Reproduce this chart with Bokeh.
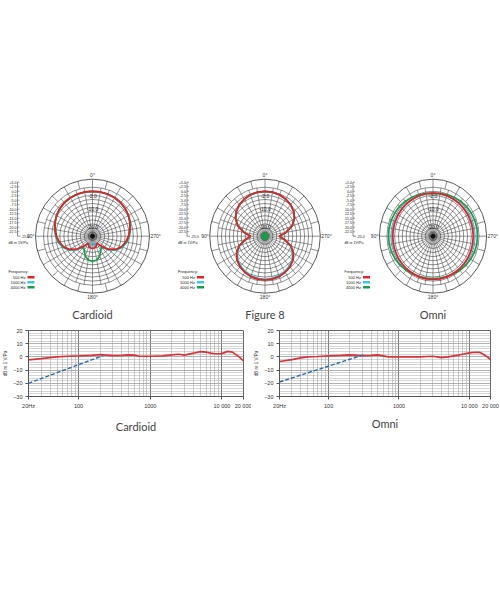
import numpy as np
from bokeh.plotting import figure
from bokeh.layouts import column, row
from bokeh.models import Spacer, Range1d, FixedTicker, Title
from bokeh.core.properties import value
from bokeh.embed import file_html
from bokeh.resources import INLINE

# ---------------- polar data (dB), angle from 0° (top), symmetric, 0..180 step 10
polar_angles = [0, 10, 20, 30, 40, 50, 60, 70, 80, 90, 100, 110, 120, 130, 140, 150, 160, 170, 180]
cardioid_500 = [2.5, 2.5, 2.4, 2.2, 1.8, 1.2, 0.4, -0.6, -1.8, -3.0, -4.4, -6.2, -8.8, -12.5, -17.5, -20.0, -18.5, -17.8, -17.5]
cardioid_1000 = [2.4, 2.4, 2.3, 2.1, 1.7, 1.1, 0.4, -0.4, -1.4, -2.4, -3.6, -5.4, -8.0, -11.6, -16.5, -20.5, -20.0, -19.2, -19.0]
cardioid_4000 = [2.5, 2.5, 2.4, 2.2, 1.8, 1.2, 0.4, -0.5, -1.5, -2.6, -3.9, -5.8, -8.6, -12.8, -16.5, -15.0, -12.0, -10.2, -9.5]
fig8_500 = [2.5, 2.4, 2.0, 1.2, 0.2, -1.3, -3.5, -6.8, -11.5, -16.0, -12.2, -7.5, -4.2, -2.0, -0.5, 0.5, 1.3, 1.7, 1.8]
fig8_1000 = [2.4, 2.3, 1.9, 1.1, 0.1, -1.4, -3.6, -6.9, -11.6, -16.0, -12.6, -8.2, -5.0, -2.7, -1.2, -0.1, 0.7, 1.2, 1.4]
fig8_4000 = [2.4, 2.3, 1.9, 1.1, 0.1, -1.4, -3.6, -6.9, -11.6, -16.0, -12.3, -7.6, -4.3, -2.1, -0.6, 0.4, 1.2, 1.6, 1.7]
omni_500 = [1.4, 1.4, 1.4, 1.3, 1.3, 1.2, 1.2, 1.2, 1.2, 1.2, 1.2, 1.2, 1.3, 1.3, 1.4, 1.4, 1.5, 1.5, 1.5]
omni_1000 = [1.3, 1.3, 1.3, 1.3, 1.4, 1.5, 1.6, 1.7, 1.8, 1.8, 1.8, 1.7, 1.6, 1.5, 1.4, 1.3, 1.3, 1.2, 1.2]
omni_4000 = [1.4, 1.6, 2.0, 2.5, 3.0, 3.4, 3.7, 3.9, 4.0, 4.0, 3.9, 3.7, 3.3, 2.8, 2.2, 1.7, 1.3, 1.1, 1.0]

legend_labels = ["500 Hz", "1000 Hz", "4000 Hz"]
legend_colors = ["#e3232b", "#3ec6e6", "#1d9a4c"]
ring_db = [-22.5, -20.0, -17.5, -15.0, -12.5, -10.0, -7.5, -5.0, -2.5, 0.0, 2.5, 5.0]
scale_values = [5.0, 2.5, 0.0, -2.5, -5.0, -7.5, -10.0, -12.5, -15.0, -17.5, -20.0, -22.5]
scale_labels = ["+5.0", "+2.5", "0.0", "-2.5", "-5.0", "-7.5", "-10.0", "-12.5", "-15.0", "-17.5", "-20.0", "-22.5"]
ring_label_text = ["-2.0", "-10.0", "-20.0"]

# ---------------- frequency response data
resp_freq = [20, 30, 40, 50, 70, 100, 150, 200, 300, 400, 500, 600, 700, 1000, 1500, 2000,
             2500, 3000, 4000, 5000, 6000, 7000, 8000, 10000, 12000, 14000, 16000, 18000, 20000]
cardioid_resp = [-2.3, -1.3, -0.5, 0.0, 0.5, 0.8, 1.2, 1.7, 1.0, 1.2, 1.6, 1.3, 0.5, 0.5, 0.8, 1.5,
                 2.0, 1.3, 2.8, 4.0, 3.6, 2.8, 2.4, 2.5, 4.2, 3.6, 1.5, -0.8, -3.0]
omni_resp = [-3.5, -2.0, -0.8, 0.0, 0.3, 0.8, 1.2, 1.5, 1.0, 1.2, 1.5, 0.8, 0.0, 0.0, 0.0, 0.0,
             0.3, 0.5, -0.5, 0.0, 0.8, 1.3, 2.0, 3.0, 3.5, 3.5, 1.8, 0.0, -2.0]
cardioid_cut_f = [20, 220]
cardioid_cut_db = [-20.0, 1.0]
omni_cut_f = [20, 310]
omni_cut_db = [-19.0, 1.5]
x_tick_vals = [20, 100, 1000, 10000, 20000]
x_tick_labels = ["20Hz", "100", "1000", "10 000", "20 000"]
y_tick_vals = [-30, -20, -10, 0, 10, 20]

# ---------------- geometry / style
R_IN, R_OUT = 49.0, 57.0
DB_MIN, DB_MAX = -25.0, 5.0
CY = 63.7
PH = 150
SCALE_TOP = 54.0
FONT = "Liberation Sans"
TFONT = "Lato"


def rad(db):
    return R_IN * (np.asarray(db, dtype=float) - DB_MIN) / (DB_MAX - DB_MIN)


def full(vals):
    a = np.array(polar_angles + [360 - a for a in polar_angles[-2::-1]], dtype=float)
    v = list(vals) + list(vals[-2::-1])
    return a, np.array(v, dtype=float)


def txt(p, x, y, t, size, align="center", base="middle", color="#333", font=FONT):
    p.text(x=list(x), y=list(y), text=t, text_font=value(font), text_font_size=size,
           text_align=align, text_baseline=base, text_color=color)


def polar(w, cx, sx, series, title, scale_px, center_color="#111", center_r=2.0):
    def X(v):
        return np.asarray(v, dtype=float) / sx

    p = figure(width=w, height=PH, x_range=Range1d(-cx / sx, (w - cx) / sx),
               y_range=Range1d(CY - PH, CY),
               output_backend="svg", toolbar_location=None, min_border=0)
    p.axis.visible = False
    p.xgrid.visible = False
    p.ygrid.visible = False
    p.outline_line_color = None
    # rings (drawn as ellipses in data units)
    rr = rad(ring_db)
    p.ellipse(x=[0] * len(rr), y=[0] * len(rr), width=list(2 * rr), height=list(2 * rr),
              fill_color=None, line_color="#333", line_width=0.55)
    p.ellipse(x=[0], y=[0], width=[2 * R_OUT], height=[2 * R_OUT], fill_color=None,
              line_color="#333", line_width=0.8)
    # spokes
    th = np.radians(np.arange(0, 360, 10))
    p.segment(x0=list(-1.5 * np.sin(th)), y0=list(1.5 * np.cos(th)),
              x1=list(-R_IN * np.sin(th)), y1=list(R_IN * np.cos(th)),
              line_color="#333", line_width=0.5)
    tb = np.radians(np.arange(0, 360, 15))
    p.segment(x0=list(-R_IN * np.sin(tb)), y0=list(R_IN * np.cos(tb)),
              x1=list(-R_OUT * np.sin(tb)), y1=list(R_OUT * np.cos(tb)),
              line_color="#333", line_width=0.55)
    # ring labels
    txt(p, [0, 0, 0], [40, 27, 9], ring_label_text, "5px", color="#222")
    # patterns: order 1000, 4000, 500 (red on top)
    for idx in (1, 2, 0):
        a, v = full(series[idx])
        r = rad(v)
        t = np.radians(a)
        p.line(x=list(-r * np.sin(t)), y=list(r * np.cos(t)), line_color=legend_colors[idx],
               line_width=1.7)
    p.ellipse(x=[0], y=[0], width=[2 * center_r / sx], height=[2 * center_r],
              fill_color=center_color, line_color=center_color)
    # angle labels
    edge = R_OUT * sx
    txt(p, [0], [R_OUT + 1], ["0°"], "5px", base="bottom")
    txt(p, [0], [-R_OUT - 1], ["180°"], "5px", base="top")
    txt(p, X([-edge - 1]), [0], ["90°"], "5px", align="right")
    txt(p, X([edge + 1]), [0], ["270°"], "5px", align="left")
    # dB scale
    sy = [SCALE_TOP * (v - DB_MIN) / (DB_MAX - DB_MIN) for v in scale_values]
    n = len(sy)
    s0 = float(X(scale_px))
    p.segment(x0=[s0], y0=[0], x1=[s0], y1=[SCALE_TOP], line_color="#444", line_width=0.6)
    p.segment(x0=[s0] * n, y0=sy, x1=[float(X(scale_px + 2))] * n, y1=sy,
              line_color="#444", line_width=0.5)
    p.segment(x0=[s0], y0=[0], x1=[float(X(scale_px + 3))], y1=[0], line_color="#444", line_width=0.6)
    txt(p, X([scale_px - 1] * n), sy, scale_labels, "3.6px", align="right", color="#222")
    txt(p, X([scale_px + 3.5]), [0], ["-25.0"], "3.6px", align="left", color="#222")
    txt(p, X([scale_px - 9]), [-7], ["dB re 1V/Pa"], "3.6px", align="left", color="#222")
    # legend
    txt(p, X([scale_px - 9]), [-35], ["Frequency:"], "4px", align="left", color="#222")
    ly = [-41, -46, -51]
    txt(p, X([scale_px + 8] * 3), ly, legend_labels, "4px", align="right", color="#222")
    p.segment(x0=list(X([scale_px + 10] * 3)), y0=ly, x1=list(X([scale_px + 17] * 3)), y1=ly,
              line_color=legend_colors, line_width=2.6)
    # title
    txt(p, [0], [-78.3], [title], "11px", color="#444", font=TFONT)
    return p


def resp(vals, cut_f, cut_db, title, fw, left, right, top, standoff):
    p = figure(frame_width=fw, frame_height=66, x_axis_type="log",
               x_range=Range1d(20, 20000), y_range=Range1d(-30, 20),
               output_backend="svg", toolbar_location=None,
               min_border_left=left, min_border_right=right, min_border_top=top,
               min_border_bottom=0)
    x_minor = [m * d for d in (10, 100, 1000) for m in range(2, 10) if 20 < m * d < 20000]
    xt = FixedTicker(ticks=x_tick_vals, minor_ticks=x_minor)
    yt = FixedTicker(ticks=y_tick_vals, minor_ticks=[v for v in range(-30, 21, 2)])
    p.xaxis.ticker = xt
    p.xgrid.ticker = xt
    p.yaxis.ticker = yt
    p.ygrid.ticker = yt
    p.xaxis.major_label_overrides = dict(zip(x_tick_vals, x_tick_labels))
    for ax in (p.xaxis, p.yaxis):
        ax.major_label_text_font = FONT
        ax.major_label_text_font_size = "5.5px"
        ax.major_label_text_color = "#333"
        ax.major_tick_out = 3
        ax.major_tick_in = 0
        ax.minor_tick_out = 0
        ax.minor_tick_in = 0
        ax.axis_line_color = "#555"
        ax.major_tick_line_color = "#555"
        ax.major_label_standoff = 3
    p.yaxis.axis_label = "dB re 1 V/Pa"
    p.yaxis.axis_label_text_font = FONT
    p.yaxis.axis_label_text_font_size = "4.5px"
    p.yaxis.axis_label_text_font_style = "normal"
    p.yaxis.axis_label_standoff = 2
    p.xgrid.grid_line_color = "#555"
    p.xgrid.grid_line_width = 0.8
    p.xgrid.minor_grid_line_color = "#999"
    p.xgrid.minor_grid_line_width = 0.5
    p.ygrid.grid_line_color = "#999"
    p.ygrid.grid_line_width = 0.6
    p.ygrid.minor_grid_line_color = "#aaa"
    p.ygrid.minor_grid_line_width = 0.5
    p.outline_line_color = "#666"
    p.line(x=resp_freq, y=vals, line_color="#d8343d", line_width=1.7)
    p.line(x=cut_f, y=cut_db, line_color="#2f6aa6", line_width=1.4, line_dash="4 2")
    p.add_layout(Title(text=title, align="center", text_font=TFONT, text_font_size="11px",
                       text_font_style="normal", text_color="#444", standoff=standoff), "below")
    return p


p1 = polar(176, 92, 1.0, [cardioid_500, cardioid_1000, cardioid_4000], "Cardioid", -75)
p2 = polar(168, 88.5, 0.97, [fig8_500, fig8_1000, fig8_4000], "Figure 8", -78,
           center_color="#1d9a4c", center_r=3.5)
p3 = polar(156, 88.5, 0.94, [omni_500, omni_1000, omni_4000], "Omni", -80)

r1 = resp(cardioid_resp, cardioid_cut_f, cardioid_cut_db, "Cardioid", 215, 27, 8, 6, 12)
r2 = resp(omni_resp, omni_cut_f, omni_cut_db, "Omni", 211, 25, 14, 8, 7)

layout = column(Spacer(width=500, height=172), row(p1, p2, p3), row(r1, r2))

with open("out.html", "w") as f:
    f.write(file_html(layout, INLINE))
